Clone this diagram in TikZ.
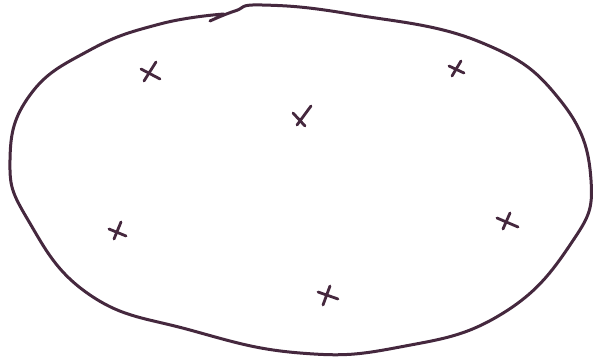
\documentclass[tikz,border=0pt]{standalone}
\definecolor{ink}{HTML}{45283E}
\begin{document}
\begin{tikzpicture}[x=1pt,y=-1pt,
  pen/.style={draw=ink,line width=3pt,line cap=round,line join=round},
  markx/.style={pen,line width=2.8pt}]
\useasboundingbox (0,0) rectangle (595,358);
% outline
\draw[pen] plot[smooth,tension=0.75] coordinates {
 (210,21) (235,11) (262,5) (350,14) (480,42)
 (560,100) (591,180) (570,245) (500,315)
 (400,347) (300,353) (190,330) (90,295)
 (28,220) (10,160) (30,95) (90,50) (160,24) (224,14)};
% marks
\coordinate (m1) at (150,72);
\coordinate (m2) at (456,68);
\coordinate (m3) at (300,118);
\coordinate (m4) at (117,231);
\coordinate (m5) at (506,222);
\coordinate (m6) at (327,295);
\draw[markx] ([shift={(6,-10)}]m1) -- ([shift={(-6,9)}]m1);
\draw[markx] ([shift={(-9,-3)}]m1) -- ([shift={(10,7)}]m1);
\draw[markx] ([shift={(5,-7)}]m2) -- ([shift={(-4,8)}]m2);
\draw[markx] ([shift={(-7,-2)}]m2) -- ([shift={(8,5)}]m2);
\draw[markx] ([shift={(11,-12)}]m3) -- ([shift={(-3,7)}]m3);
\draw[markx] ([shift={(-7,-5)}]m3) -- ([shift={(5,8)}]m3);
\draw[markx] ([shift={(4,-9)}]m4) -- ([shift={(-3,8)}]m4);
\draw[markx] ([shift={(-8,-2)}]m4) -- ([shift={(9,5)}]m4);
\draw[markx] ([shift={(4,-9)}]m5) -- ([shift={(-3,7)}]m5);
\draw[markx] ([shift={(-9,-4)}]m5) -- ([shift={(12,5)}]m5);
\draw[markx] ([shift={(3,-9)}]m6) -- ([shift={(-4,10)}]m6);
\draw[markx] ([shift={(-9,-3)}]m6) -- ([shift={(11,4)}]m6);
\end{tikzpicture}
\end{document}
